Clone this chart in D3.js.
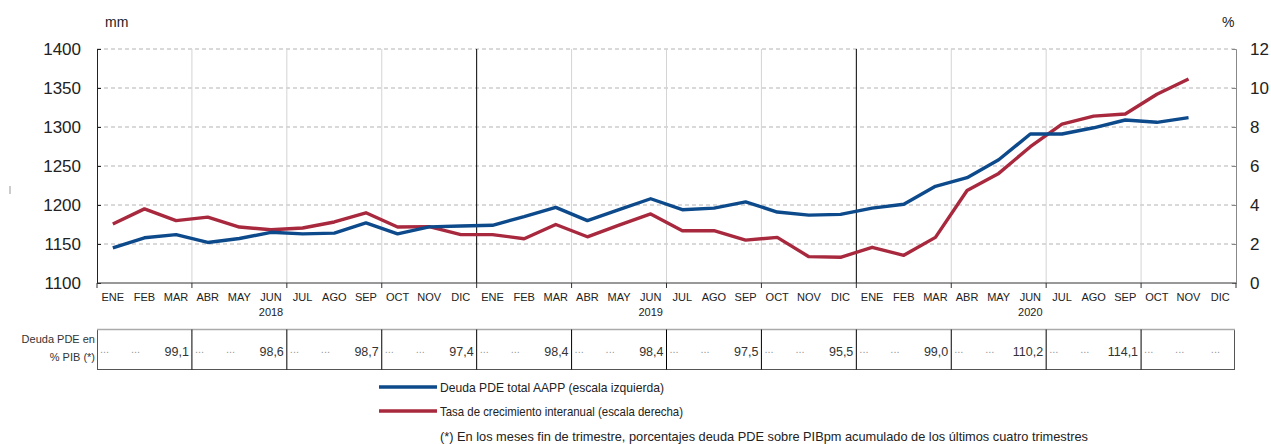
<!DOCTYPE html>
<html>
<head>
<meta charset="utf-8">
<script src="https://cdn.jsdelivr.net/npm/d3@7.9.0/dist/d3.min.js"></script>
<style>
  body { margin: 0; background: #fff; }
  svg { display: block; font-family: "Liberation Sans", Arial, sans-serif; }
</style>
</head>
<body>
<svg id="chart" width="1271" height="444"></svg>
<script>
const months = ['ENE', 'FEB', 'MAR', 'ABR', 'MAY', 'JUN', 'JUL', 'AGO', 'SEP', 'OCT', 'NOV', 'DIC'];
const years = ['2018', '2019', '2020'];

// deuda PDE total AAPP (mm €), escala izquierda
const deuda = [
  1145, 1158, 1162, 1152, 1157, 1165, 1163, 1164, 1177, 1163, 1172, 1173,
  1174, 1185, 1197, 1180, 1194, 1208, 1194, 1196, 1204, 1191, 1187, 1188,
  1196, 1201, 1224, 1235, 1258, 1291, 1291, 1299, 1309, 1306, 1312, null
];

// tasa de crecimiento interanual (%), escala derecha
const tasa = [
  3.03, 3.8, 3.2, 3.38, 2.87, 2.73, 2.82, 3.13, 3.6, 2.87, 2.89, 2.48,
  2.48, 2.27, 3.0, 2.37, 2.97, 3.54, 2.68, 2.68, 2.2, 2.34, 1.35, 1.32,
  1.83, 1.42, 2.34, 4.74, 5.62, 6.99, 8.15, 8.56, 8.67, 9.68, 10.46, null
];

// deuda PDE en % PIB, fin de trimestre
const pctPib = ['99,1', '98,6', '98,7', '97,4', '98,4', '98,4', '97,5', '95,5', '99,0', '110,2', '114,1', '...'];

const leftTicks = [1100, 1150, 1200, 1250, 1300, 1350, 1400];
const rightTicks = [0, 2, 4, 6, 8, 10, 12];

const legendLabels = [
  'Deuda PDE total AAPP (escala izquierda)',
  'Tasa de crecimiento interanual (escala derecha)'
];
const nota = '(*) En los meses fin de trimestre, porcentajes deuda PDE sobre PIBpm acumulado de los últimos cuatro trimestres';

const blue = '#0d4a8b';
const red = '#a8283d';

const svg = d3.select('#chart');
const pLeft = 97, pRight = 1236, pTop = 49, pBottom = 283;

const idx = d3.range(36);
const x = d3.scaleBand().domain(idx).range([pLeft, pRight]).padding(0);
const yL = d3.scaleLinear().domain([1100, 1400]).range([pBottom, pTop]);
const yR = d3.scaleLinear().domain([0, 12]).range([pBottom, pTop]);
const cx = (i) => x(i) + x.bandwidth() / 2;

// horizontal dashed grid
svg.append('g')
  .selectAll('line')
  .data(leftTicks.slice(1))
  .join('line')
  .attr('x1', pLeft).attr('x2', pRight)
  .attr('y1', (d) => yL(d)).attr('y2', (d) => yL(d))
  .attr('stroke', '#b3b3b3')
  .attr('stroke-dasharray', '4,3');

// quarter / year vertical lines
const quarters = d3.range(1, 12);
svg.append('g')
  .selectAll('line')
  .data(quarters)
  .join('line')
  .attr('x1', (q) => x(q * 3)).attr('x2', (q) => x(q * 3))
  .attr('y1', pTop).attr('y2', pBottom)
  .attr('stroke', (q) => (q % 4 === 0 ? '#000' : '#d4d4d4'))
  .attr('stroke-width', 1);

// axes
const axisL = svg.append('g').attr('transform', `translate(${pLeft},0)`)
  .call(d3.axisLeft(yL).tickValues(leftTicks).tickSize(-4).tickFormat(d3.format('d')));
axisL.select('.domain').attr('stroke', '#222');
axisL.selectAll('.tick line').attr('stroke', '#222');
axisL.selectAll('text').attr('x', -16).attr('font-size', 17).attr('fill', '#222')
  .attr('font-family', '"Liberation Sans", Arial, sans-serif');

const axisR = svg.append('g').attr('transform', `translate(${pRight},0)`)
  .call(d3.axisRight(yR).tickValues(rightTicks).tickSize(-4));
axisR.select('.domain').attr('stroke', '#888');
axisR.selectAll('.tick line').attr('stroke', '#888');
axisR.selectAll('text').attr('x', 14).attr('font-size', 17).attr('fill', '#222')
  .attr('font-family', '"Liberation Sans", Arial, sans-serif');

// bottom axis line and quarter ticks
svg.append('line')
  .attr('x1', pLeft).attr('x2', pRight).attr('y1', pBottom).attr('y2', pBottom)
  .attr('stroke', '#333');
svg.append('g')
  .selectAll('line')
  .data(d3.range(0, 13))
  .join('line')
  .attr('x1', (q) => (q === 12 ? pRight : x(q * 3))).attr('x2', (q) => (q === 12 ? pRight : x(q * 3)))
  .attr('y1', pBottom).attr('y2', pBottom + 5)
  .attr('stroke', '#333');

// month labels
svg.append('g')
  .selectAll('text')
  .data(idx)
  .join('text')
  .attr('x', (i) => cx(i))
  .attr('y', 301)
  .attr('text-anchor', 'middle')
  .attr('font-size', 11)
  .attr('fill', '#222')
  .text((i) => months[i % 12]);

svg.append('g')
  .selectAll('text')
  .data(years)
  .join('text')
  .attr('x', (d, k) => cx(k * 12 + 5))
  .attr('y', 316)
  .attr('text-anchor', 'middle')
  .attr('font-size', 11)
  .attr('fill', '#222')
  .text((d) => d);

svg.append('text').attr('x', 105).attr('y', 27).attr('font-size', 14).attr('fill', '#222').text('mm');
svg.append('text').attr('x', 1222).attr('y', 27).attr('font-size', 14).attr('fill', '#222').text('%');
svg.append('line').attr('x1', 10).attr('x2', 10).attr('y1', 186).attr('y2', 194)
  .attr('stroke', '#999').attr('stroke-width', 1);

// series
const lineL = d3.line().defined((d) => d != null).x((d, i) => cx(i)).y((d) => yL(d));
const lineR = d3.line().defined((d) => d != null).x((d, i) => cx(i)).y((d) => yR(d));

svg.append('path').datum(tasa)
  .attr('d', lineR).attr('fill', 'none').attr('stroke', red)
  .attr('stroke-width', 3.4).attr('stroke-linejoin', 'round');
svg.append('path').datum(deuda)
  .attr('d', lineL).attr('fill', 'none').attr('stroke', blue)
  .attr('stroke-width', 3.4).attr('stroke-linejoin', 'round');

// table of % PIB
const tTop = 329.5, tBot = 369.5;
const table = svg.append('g');
table.append('rect')
  .attr('x', pLeft + 0.5).attr('y', tTop).attr('width', pRight - pLeft - 2).attr('height', tBot - tTop)
  .attr('fill', 'none').attr('stroke', '#555');
table.append('line').attr('x1', pLeft).attr('x2', pRight - 1).attr('y1', tTop).attr('y2', tTop)
  .attr('stroke', '#aaa').attr('stroke-width', 1.5);
table.selectAll('line.div')
  .data(quarters)
  .join('line')
  .attr('class', 'div')
  .attr('x1', (q) => x(q * 3)).attr('x2', (q) => x(q * 3))
  .attr('y1', tTop).attr('y2', tBot)
  .attr('stroke', '#000');

pctPib.forEach((v, q) => {
  const x0 = x(q * 3);
  const x1 = q === 11 ? pRight - 13 : x(q * 3 + 3);
  table.append('text').attr('x', x0 + 3).attr('y', 353).attr('font-size', 11).attr('fill', '#999').text('...');
  table.append('text').attr('x', x0 + 34).attr('y', 353).attr('font-size', 11).attr('fill', '#999').text('...');
  table.append('text').attr('x', x1 - 3).attr('y', v === '...' ? 353 : 356)
    .attr('text-anchor', 'end')
    .attr('font-size', v === '...' ? 11 : 12.5)
    .attr('fill', v === '...' ? '#999' : '#333')
    .text(v);
});

table.append('text').attr('x', 95).attr('y', 343).attr('text-anchor', 'end')
  .attr('font-size', 11).attr('fill', '#333').text('Deuda PDE en');
table.append('text').attr('x', 95).attr('y', 361).attr('text-anchor', 'end')
  .attr('font-size', 11).attr('fill', '#333').text('% PIB (*)');

// legend
const legend = svg.append('g');
const legendRows = [
  { label: legendLabels[0], color: blue, y: 387, len: 224 },
  { label: legendLabels[1], color: red, y: 411, len: 243 }
];
legendRows.forEach((r) => {
  legend.append('line').attr('x1', 379).attr('x2', 437).attr('y1', r.y).attr('y2', r.y)
    .attr('stroke', r.color).attr('stroke-width', 3.5);
  legend.append('text').attr('x', 440).attr('y', r.y + 5)
    .attr('font-family', '"Liberation Sans Narrow", "Liberation Sans", Arial, sans-serif')
    .attr('font-size', 13).attr('fill', '#222')
    .attr('textLength', r.len).attr('lengthAdjust', 'spacingAndGlyphs')
    .text(r.label);
});
legend.append('text').attr('x', 440).attr('y', 441)
  .attr('font-family', '"Liberation Sans Narrow", "Liberation Sans", Arial, sans-serif')
  .attr('font-size', 13).attr('fill', '#222')
  .attr('textLength', 648).attr('lengthAdjust', 'spacingAndGlyphs')
  .text(nota);
</script>
</body>
</html>
